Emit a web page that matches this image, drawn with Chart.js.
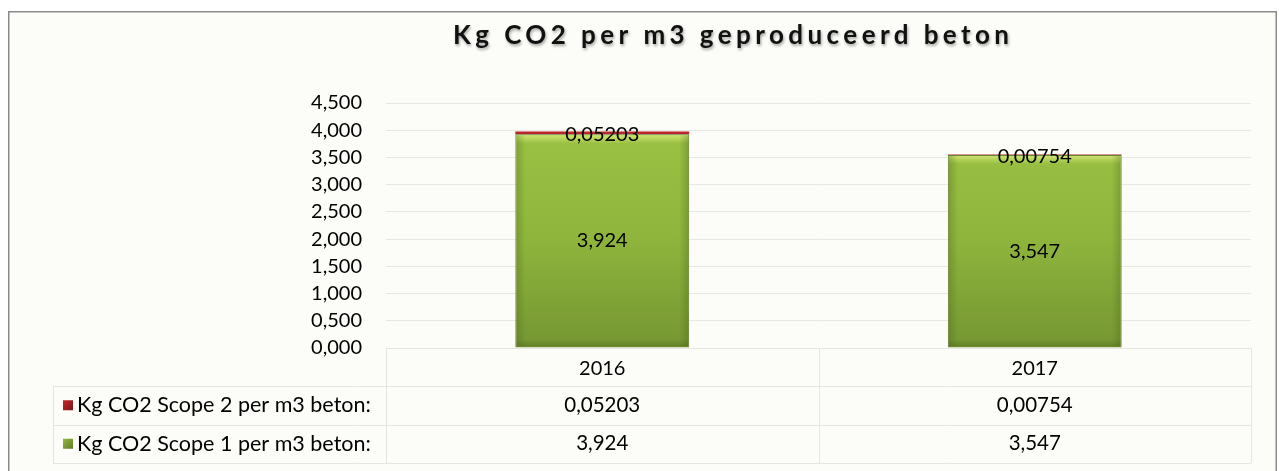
<!DOCTYPE html>
<html>
<head>
<meta charset="utf-8">
<script src="https://cdn.jsdelivr.net/npm/chart.js@4.4.0/dist/chart.umd.min.js"></script>
<style>
  html, body { margin: 0; padding: 0; background: #ffffff; }
  #wrap { width: 1279px; height: 471px; }
</style>
</head>
<body>
<div id="wrap"><canvas id="chart" width="1279" height="471"></canvas></div>
<script>
// data
var chartTitle = "Kg CO2 per m3 geproduceerd beton";
var years = ["2016", "2017"];
var scope1 = [3.924, 3.547];
var scope2 = [0.05203, 0.00754];
var scope1Name = "Kg CO2 Scope 1 per m3 beton:";
var scope2Name = "Kg CO2 Scope 2 per m3 beton:";
var yMin = 0, yMax = 4.5, yStep = 0.5;

var FONT = "Lato, 'Open Sans', sans-serif";

// dutch style numbers: 3,924
const nl = (v) => String(v).replace(".", ",");
const tick = (v) => Number(v).toFixed(3).replace(".", ",");

// green bar fill, lighter at the top
const greenFill = (context) => {
  var ca = context.chart.chartArea;
  if (!ca) return "#8db33a";
  var g = context.chart.ctx.createLinearGradient(0, ca.top, 0, ca.bottom);
  g.addColorStop(0, "#9ec545");
  g.addColorStop(0.55, "#8fb53d");
  g.addColorStop(1, "#759632");
  return g;
};

//frame, background and title
const framePlugin = {
  id: "frame",
  beforeDraw(chart) {
    var ctx = chart.ctx;
    ctx.save();
    ctx.fillStyle = "#ffffff";
    ctx.fillRect(0, 0, chart.width, chart.height);
    ctx.fillStyle = "#fcfcf8";
    ctx.fillRect(9, 12, 1267, 470);
    ctx.strokeStyle = "#8a8a8a";
    ctx.lineWidth = 1.5;
    ctx.strokeRect(8.75, 11.75, 1267.5, 480);

    // title with letter spacing and a soft shadow
    ctx.font = "bold 26px " + FONT;
    ctx.letterSpacing = "0px";
    var w0 = ctx.measureText(chartTitle).width;
    var ls = (556 - w0) / (chartTitle.length - 1);
    ctx.letterSpacing = ls + "px";
    ctx.fillStyle = "#111111";
    ctx.textAlign = "left";
    ctx.textBaseline = "middle";
    ctx.shadowColor = "rgba(0,0,0,0.35)";
    ctx.shadowOffsetX = 1;
    ctx.shadowOffsetY = 2;
    ctx.shadowBlur = 3;
    ctx.fillText(chartTitle, 453, 36);
    ctx.restore();
  },
};

// bevel look on the bars + value labels
const labelPlugin = {
  id: "labels",
  afterDatasetsDraw(chart) {
    var ctx = chart.ctx;
    ctx.save();
    var meta1 = chart.getDatasetMeta(0);
    meta1.data.forEach(function (el) {
      var l = el.x - el.width / 2, r = el.x + el.width / 2;
      var t = el.y, b = el.base;
      // top highlight
      var g = ctx.createLinearGradient(0, t, 0, t + 9);
      g.addColorStop(0, "rgba(215,235,120,0.9)");
      g.addColorStop(1, "rgba(215,235,120,0)");
      ctx.fillStyle = g;
      ctx.fillRect(l + 1, t + 1, r - l - 2, 9);
      // side shading
      var gl = ctx.createLinearGradient(l, 0, l + 10, 0);
      gl.addColorStop(0, "rgba(70,95,25,0.35)");
      gl.addColorStop(1, "rgba(70,95,25,0)");
      ctx.fillStyle = gl;
      ctx.fillRect(l + 1, t + 1, 10, b - t - 2);
      var gr = ctx.createLinearGradient(r, 0, r - 10, 0);
      gr.addColorStop(0, "rgba(70,95,25,0.35)");
      gr.addColorStop(1, "rgba(70,95,25,0)");
      ctx.fillStyle = gr;
      ctx.fillRect(r - 11, t + 1, 10, b - t - 2);
      // bottom shade
      var gb = ctx.createLinearGradient(0, b, 0, b - 8);
      gb.addColorStop(0, "rgba(70,95,25,0.45)");
      gb.addColorStop(1, "rgba(70,95,25,0)");
      ctx.fillStyle = gb;
      ctx.fillRect(l + 1, b - 9, r - l - 2, 8);
    });

    ctx.font = "20px " + FONT;
    ctx.fillStyle = "#000000";
    ctx.textAlign = "center";
    ctx.textBaseline = "middle";
    chart.data.datasets.forEach(function (ds, di) {
      chart.getDatasetMeta(di).data.forEach(function (el, i) {
        var y = (el.y + el.base) / 2;
        if (di == 1) y += 2;
        ctx.fillText(nl(ds.data[i]), el.x, y);
      });
    });
    ctx.restore();
  },
};

// data table under the x axis
const tablePlugin = {
  id: "table",
  afterDraw(chart) {
    var ctx = chart.ctx;
    var xs = chart.scales.x;
    var ca = chart.chartArea;
    var tLeft = 53, rowTop = 386, rowH = 38.5;
    var rows = [
      { name: scope2Name, data: scope2, color: "#c3262b", dark: "#7e1418" },
      { name: scope1Name, data: scope1, color: "#93ba3f", dark: "#5e7a28" },
    ];
    ctx.save();
    ctx.strokeStyle = "#e6e6e0";
    ctx.lineWidth = 1;
    ctx.beginPath();
    // header box
    ctx.moveTo(ca.left, ca.bottom + 0.5);
    ctx.lineTo(ca.right, ca.bottom + 0.5);
    for (var k = 0; k <= rows.length; k++) {
      var yy = Math.round(rowTop + k * rowH) + 0.5;
      ctx.moveTo(tLeft, yy);
      ctx.lineTo(ca.right, yy);
    }
    var bottom = rowTop + rows.length * rowH;
    ctx.moveTo(tLeft + 0.5, rowTop);
    ctx.lineTo(tLeft + 0.5, bottom);
    var colEdges = [ca.left, (xs.getPixelForValue(0) + xs.getPixelForValue(1)) / 2, ca.right];
    colEdges.forEach(function (cx) {
      ctx.moveTo(Math.round(cx) + 0.5, ca.bottom);
      ctx.lineTo(Math.round(cx) + 0.5, bottom);
    });
    ctx.stroke();

    ctx.textBaseline = "middle";
    rows.forEach(function (row, r) {
      var cy = rowTop + r * rowH + rowH / 2;
      // legend key
      var g = ctx.createLinearGradient(63, cy - 5, 73, cy + 5);
      g.addColorStop(0, row.color);
      g.addColorStop(1, row.dark);
      ctx.fillStyle = g;
      ctx.fillRect(63, cy - 5, 10, 10);
      ctx.fillStyle = "#000000";
      ctx.textAlign = "left";
      ctx.font = "21.5px " + FONT;
      ctx.fillText(row.name, 77, cy);
      ctx.textAlign = "center";
      ctx.font = "20.5px " + FONT;
      row.data.forEach(function (v, i) {
        ctx.fillText(nl(v), xs.getPixelForValue(i), cy);
      });
    });
    ctx.restore();
  },
};

var ctx = document.getElementById("chart").getContext("2d");
var chart = new Chart(ctx, {
  type: "bar",
  data: {
    labels: years,
    datasets: [
      {
        label: scope1Name,
        data: scope1,
        backgroundColor: greenFill,
        borderColor: "#5e7a28",
        borderWidth: 1,
        barPercentage: 0.402,
        categoryPercentage: 1,
      },
      {
        label: scope2Name,
        data: scope2,
        backgroundColor: "#b8252b",
        borderWidth: 0,
        barPercentage: 0.402,
        categoryPercentage: 1,
      },
    ],
  },
  options: {
    responsive: false,
    animation: false,
    devicePixelRatio: 1,
    layout: { padding: { top: 103, right: 28, bottom: 0, left: 0 } },
    plugins: {
      legend: { display: false },
      title: { display: false },
      tooltip: { enabled: false },
    },
    scales: {
      x: {
        stacked: true,
        grid: { display: false, drawTicks: false },
        border: { display: false },
        ticks: { color: "#000000", font: { family: FONT, size: 20 }, padding: 9 },
        afterFit: function (scale) { scale.height = 123; },
      },
      y: {
        stacked: true,
        min: yMin,
        max: yMax,
        grid: { color: "#e8e8e3", drawTicks: false },
        border: { display: false },
        ticks: {
          stepSize: yStep,
          color: "#000000",
          font: { family: FONT, size: 20 },
          padding: 24,
          callback: function (v) { return tick(v); },
        },
        afterFit: function (scale) { scale.width = 386; },
      },
    },
  },
  plugins: [framePlugin, labelPlugin, tablePlugin],
});
</script>
</body>
</html>
